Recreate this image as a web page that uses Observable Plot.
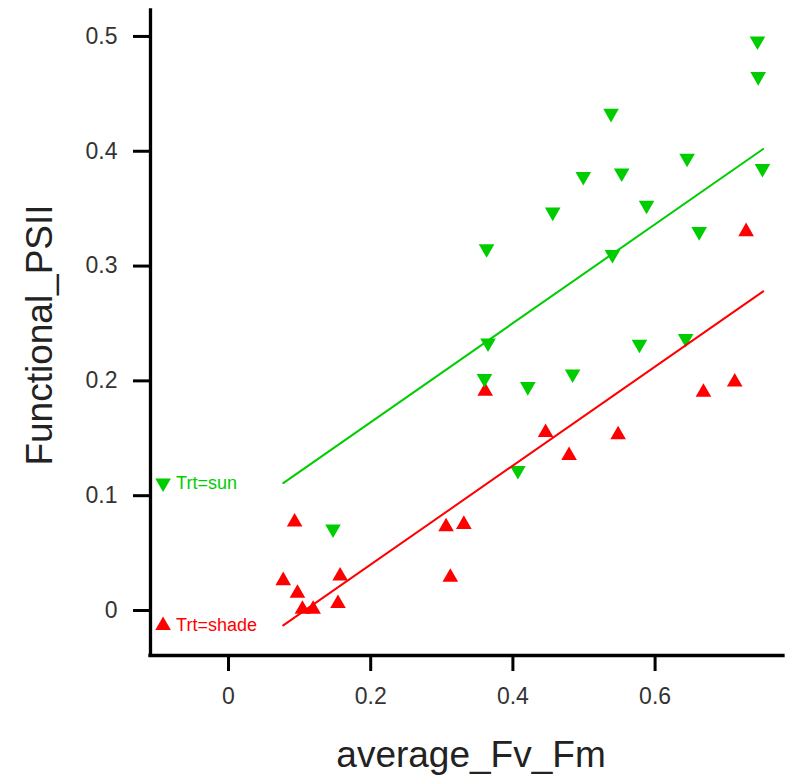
<!DOCTYPE html>
<html>
<head>
<meta charset="utf-8">
<script src="https://cdn.jsdelivr.net/npm/d3@7"></script>
<script src="https://cdn.jsdelivr.net/npm/@observablehq/plot@0.6"></script>
<style>
  body { margin: 0; background: #fff; }
</style>
</head>
<body>
<div id="chart"></div>
<script>
// ---- data ----
const sunX = [0.744, 0.745, 0.538, 0.645, 0.751, 0.553, 0.499, 0.588, 0.456, 0.662,
              0.363, 0.540, 0.365, 0.578, 0.643, 0.360, 0.484, 0.421, 0.407, 0.147];
const sunY = [0.496, 0.465, 0.433, 0.394, 0.385, 0.381, 0.378, 0.353, 0.347, 0.330,
              0.315, 0.310, 0.233, 0.232, 0.237, 0.202, 0.206, 0.195, 0.122, 0.071];

const shadeX = [0.728, 0.361, 0.446, 0.548, 0.479, 0.668, 0.712, 0.331, 0.093,
                0.077, 0.157, 0.097, 0.104, 0.119, 0.154, 0.306, 0.312];
const shadeY = [0.330, 0.191, 0.155, 0.153, 0.135, 0.190, 0.199, 0.075, 0.077,
                0.026, 0.030, 0.015, 0.001, 0.001, 0.006, 0.073, 0.029];

// parallel-slope fitted lines (endpoints)
const fitX = [0.077, 0.752];
const fitSunY = [0.111, 0.402];
const fitShadeY = [-0.013, 0.278];

const xTicks = [0, 0.2, 0.4, 0.6];
const yTicks = [0, 0.1, 0.2, 0.3, 0.4, 0.5];
const xDomain = [-0.1097, 0.7806];
const yDomain = [-0.0392, 0.5226];

const groups = ["sun", "shade"];
const legendLabels = ["Trt=sun", "Trt=shade"];
const legendX = -0.092;
const groupColors = ["#00CD00", "#FF0000"];
const xTitle = "average_Fv_Fm";
const yTitle = "Functional_PSII";

// ---- build tables ----
const sun = sunX.map((x, i) => ({x, y: sunY[i]}));
const shade = shadeX.map((x, i) => ({x, y: shadeY[i]}));
const fitSun = fitX.map((x, i) => ({x, y: fitSunY[i]}));
const fitShade = fitX.map((x, i) => ({x, y: fitShadeY[i]}));
const legendSun = [{x: legendX, y: fitSunY[0], label: legendLabels[0]}];
const legendShade = [{x: legendX, y: fitShadeY[0], label: legendLabels[1]}];

// down-pointing triangle symbol (mirror of d3.symbolTriangle)
const triDown = {
  draw(ctx, size) {
    const y = -Math.sqrt(size / (3 * Math.sqrt(3)));
    ctx.moveTo(0, -2 * y);
    ctx.lineTo(-Math.sqrt(3) * y, y);
    ctx.lineTo(Math.sqrt(3) * y, y);
    ctx.closePath();
  }
};

const R = 5.8;
const font = "'Liberation Sans', Arial, sans-serif";
const fmt = d => d === 0 ? "0" : d3.format(".1f")(d);

const plot = Plot.plot({
  width: 785,
  height: 780,
  marginLeft: 150,
  marginRight: 2,
  marginTop: 10,
  marginBottom: 125,
  x: {domain: xDomain},
  y: {domain: yDomain},
  style: {fontFamily: font, background: "white"},
  marks: [
    Plot.dot(shade, {x: "x", y: "y", symbol: "triangle", r: R, fill: groupColors[1], stroke: "none"}),
    Plot.dot(sun, {x: "x", y: "y", symbol: triDown, r: R, fill: groupColors[0], stroke: "none"}),
    Plot.line(fitSun, {x: "x", y: "y", stroke: groupColors[0], strokeWidth: 2}),
    Plot.line(fitShade, {x: "x", y: "y", stroke: groupColors[1], strokeWidth: 2}),
    // direct labels
    Plot.dot(legendSun, {x: "x", y: "y", symbol: triDown, r: R, fill: groupColors[0], stroke: "none"}),
    Plot.dot(legendShade, {x: "x", y: "y", symbol: "triangle", r: R, fill: groupColors[1], stroke: "none"}),
    Plot.text(legendSun, {x: "x", y: "y", text: "label", dx: 13, textAnchor: "start", fill: groupColors[0], fontSize: 18}),
    Plot.text(legendShade, {x: "x", y: "y", text: "label", dx: 13, textAnchor: "start", fill: groupColors[1], fontSize: 18}),
    // axis lines
    Plot.ruleX([xDomain[0]], {stroke: "black", strokeWidth: 3.3, strokeLinecap: "square"}),
    Plot.ruleY([yDomain[0]], {stroke: "black", strokeWidth: 3.3, strokeLinecap: "square"}),
    // axes
    Plot.axisX({ticks: xTicks, tickSize: 16, tickPadding: 16, strokeWidth: 3, stroke: "black", fill: "#333",
                fontSize: 23, label: null, tickFormat: fmt}),
    Plot.axisY({ticks: yTicks, tickSize: 17, tickPadding: 16, strokeWidth: 3, stroke: "black", fill: "#333",
                fontSize: 23, label: null, tickFormat: fmt}),
    // axis titles
    Plot.text([xTitle], {text: d => d, frameAnchor: "bottom", lineAnchor: "middle", textAnchor: "middle",
                         dy: 100, dx: 4, fontSize: 37, fill: "#222"}),
    Plot.text([yTitle], {text: d => d, frameAnchor: "left", lineAnchor: "middle", textAnchor: "middle",
                         rotate: -90, dx: -110, dy: 2, fontSize: 37, fill: "#222"})
  ]
});

document.getElementById("chart").appendChild(plot);
</script>
</body>
</html>
